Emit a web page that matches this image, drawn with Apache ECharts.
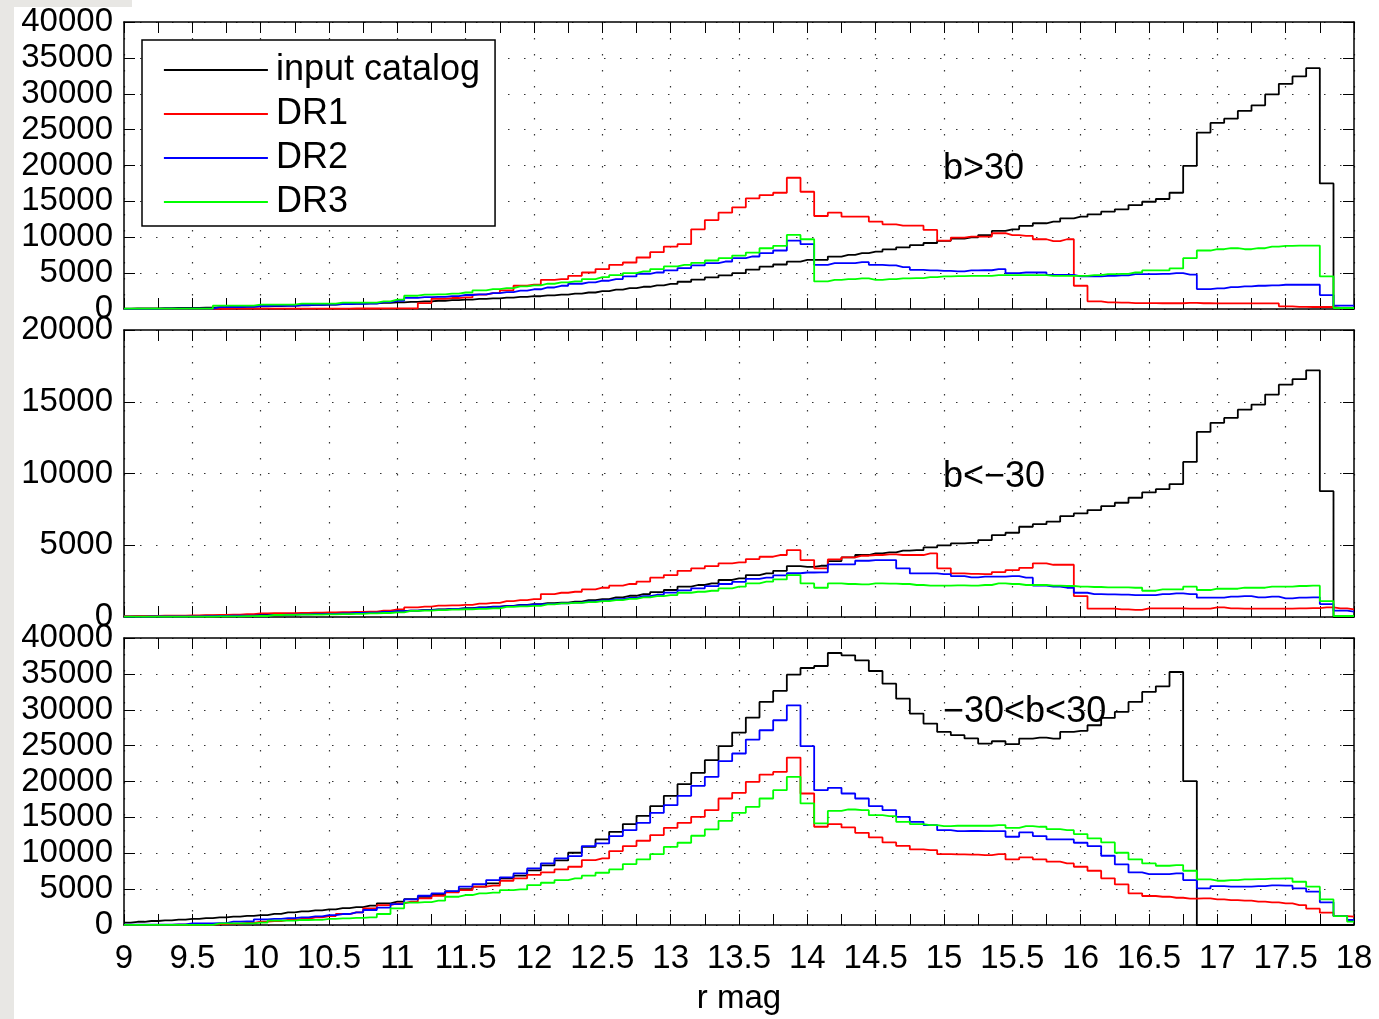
<!DOCTYPE html>
<html>
<head>
<meta charset="utf-8">
<script src="https://cdn.jsdelivr.net/npm/echarts@6/dist/echarts.min.js"></script>
<style>html,body{margin:0;padding:0;background:#fff}#chart{width:1379px;height:1019px}</style>
</head>
<body>
<div id="chart"></div>
<script>
// bin centres (r mag)
const mags = [
  9.0, 9.1, 9.2, 9.3, 9.4, 9.5, 9.6, 9.7, 9.8, 9.9,
  10.0, 10.1, 10.2, 10.3, 10.4, 10.5, 10.6, 10.7, 10.8, 10.9,
  11.0, 11.1, 11.2, 11.3, 11.4, 11.5, 11.6, 11.7, 11.8, 11.9,
  12.0, 12.1, 12.2, 12.3, 12.4, 12.5, 12.6, 12.7, 12.8, 12.9,
  13.0, 13.1, 13.2, 13.3, 13.4, 13.5, 13.6, 13.7, 13.8, 13.9,
  14.0, 14.1, 14.2, 14.3, 14.4, 14.5, 14.6, 14.7, 14.8, 14.9,
  15.0, 15.1, 15.2, 15.3, 15.4, 15.5, 15.6, 15.7, 15.8, 15.9,
  16.0, 16.1, 16.2, 16.3, 16.4, 16.5, 16.6, 16.7, 16.8, 16.9,
  17.0, 17.1, 17.2, 17.3, 17.4, 17.5, 17.6, 17.7, 17.8, 17.9,
  18.0
];

// ---- panel 1 : b>30 ----
const p1Input = [
  50, 70, 90, 110, 140, 170, 200, 240, 280, 320,
  370, 420, 470, 520, 570, 620, 680, 740, 800, 860,
  930, 1000, 1070, 1150, 1230, 1310, 1400, 1490, 1580, 1680,
  1780, 1890, 2000, 2150, 2300, 2500, 2700, 2900, 3100, 3300,
  3500, 3800, 4100, 4400, 4700, 5000, 5500, 5900, 6200, 6600,
  6850, 6850, 7300, 7550, 7800, 8000, 8300, 8600, 8900, 9200,
  9500, 9800, 10000, 10300, 10880, 11110, 11575, 11950, 12180, 12640,
  12870, 13200, 13570, 13890, 14490, 14950, 15330, 16200, 19950, 24590,
  25930, 26530, 27600, 28380, 29910, 31390, 32410, 33570, 17500, 100,
  50
];
const p1DR1 = [
  20, 20, 20, 20, 30, 30, 30, 30, 40, 40,
  40, 50, 50, 50, 60, 60, 60, 70, 70, 80,
  80, 100, 830, 1430, 1530, 1620, 1990, 2220, 2590, 3240,
  3380, 4070, 4170, 4630, 5090, 5560, 6160, 6480, 7180, 7920,
  8700, 9030, 11110, 12400, 13430, 14170, 15420, 15880, 16200, 18290,
  16340, 12960, 13430, 12870, 12870, 12180, 11800, 11620, 11620, 11020,
  9540, 9950, 10100, 10100, 10560, 10300, 10190, 9720, 9450, 9720,
  3240, 1065, 926, 880, 830, 830, 800, 800, 850, 800,
  790, 790, 790, 780, 780, 370, 300, 280, 280, 150,
  150
];
const p1DR2 = [
  30, 30, 30, 40, 40, 40, 50, 250, 280, 300,
  420, 430, 450, 560, 570, 600, 700, 720, 750, 950,
  1150, 1550, 1650, 1700, 1800, 1950, 2050, 2200, 2350, 2550,
  2750, 3000, 3240, 3520, 3700, 3940, 4170, 4540, 4910, 5090,
  5370, 5700, 6070, 6390, 6620, 7080, 7320, 7780, 8150, 9540,
  9030, 6160, 6390, 6390, 6530, 6160, 6070, 5830, 5460, 5370,
  5300, 5250, 5370, 5400, 5560, 5000, 5090, 5090, 4770, 4770,
  4540, 4540, 4630, 4680, 4860, 4860, 4900, 5000, 4800, 2780,
  2870, 3060, 3150, 3240, 3300, 3380, 3380, 3380, 1940, 460,
  460
];
const p1DR3 = [
  50, 50, 50, 50, 50, 50, 50, 460, 460, 460,
  600, 600, 600, 740, 740, 740, 880, 880, 880, 1070,
  1300, 1850, 2000, 2050, 2130, 2300, 2600, 2780, 2900, 3150,
  3300, 3520, 3700, 3840, 4170, 4440, 4720, 5000, 5230, 5560,
  5930, 6160, 6440, 6760, 7080, 7450, 7870, 8470, 8800, 10320,
  9720, 3840, 4070, 4170, 4260, 4070, 4170, 4260, 4300, 4440,
  4540, 4580, 4630, 4630, 4720, 4720, 4720, 4720, 4630, 4630,
  4630, 4720, 4860, 4900, 5090, 5370, 5370, 5650, 7080, 8150,
  8330, 8470, 8330, 8470, 8700, 8800, 8840, 8840, 4540, 140,
  140
];

// ---- panel 2 : b<-30 ----
const p2Input = [
  30, 40, 50, 60, 70, 80, 90, 100, 110, 130,
  150, 170, 190, 210, 230, 250, 280, 310, 340, 370,
  410, 450, 490, 530, 570, 620, 670, 720, 780, 840,
  900, 960, 1000, 1070, 1180, 1250, 1370, 1480, 1600, 1740,
  1880, 2110, 2230, 2340, 2580, 2690, 2920, 3040, 3220, 3550,
  3500, 3570, 3900, 4150, 4320, 4430, 4500, 4620, 4660, 4850,
  4990, 5130, 5170, 5360, 5710, 5870, 6290, 6470, 6640, 7030,
  7220, 7450, 7730, 7960, 8310, 8680, 8910, 9260, 10810, 12900,
  13530, 13870, 14450, 14800, 15500, 16190, 16570, 17190, 8770, 0,
  0
];
const p2DR1 = [
  60, 70, 80, 90, 100, 110, 130, 150, 170, 200,
  250, 260, 270, 280, 300, 320, 340, 360, 380, 450,
  530, 670, 720, 790, 810, 840, 930, 980, 1110, 1180,
  1250, 1600, 1690, 1760, 1920, 2040, 2180, 2300, 2460, 2740,
  2920, 3220, 3390, 3550, 3740, 3800, 4040, 4200, 4320, 4660,
  3970, 3390, 4010, 4150, 4270, 4320, 4360, 4320, 4320, 4430,
  3390, 3040, 3000, 2990, 3130, 3270, 3430, 3740, 3640, 3640,
  1460, 580, 580, 530, 490, 600, 600, 600, 580, 580,
  670, 600, 580, 580, 580, 580, 600, 620, 670, 600,
  530
];
const p2DR2 = [
  30, 30, 40, 40, 50, 50, 60, 80, 90, 100,
  120, 140, 160, 180, 200, 220, 250, 280, 310, 350,
  400, 440, 480, 520, 560, 600, 650, 700, 760, 820,
  870, 920, 950, 1000, 1080, 1150, 1250, 1330, 1450, 1550,
  1700, 1850, 2000, 2150, 2300, 2450, 2650, 2750, 2900, 3050,
  3100, 3110, 3670, 3670, 3920, 3970, 3970, 3390, 3040, 3040,
  2990, 2850, 2760, 2810, 2810, 2850, 2740, 2180, 2110, 2040,
  1690, 1600, 1580, 1560, 1530, 1530, 1600, 1650, 1600, 1350,
  1350, 1420, 1460, 1370, 1420, 1300, 1350, 1370, 900, 440,
  370
];
const p2DR3 = [
  20, 20, 20, 20, 20, 20, 20, 50, 50, 60,
  70, 140, 150, 160, 170, 180, 200, 220, 250, 280,
  320, 420, 450, 480, 510, 540, 570, 600, 700, 740,
  780, 880, 950, 990, 1040, 1110, 1180, 1270, 1370, 1460,
  1530, 1690, 1760, 1830, 2000, 2110, 2340, 2460, 2620, 2920,
  2340, 2040, 2340, 2300, 2270, 2340, 2320, 2300, 2230, 2180,
  2180, 2200, 2180, 2230, 2340, 2300, 2230, 2230, 2180, 2160,
  2110, 2090, 2060, 2060, 2040, 1830, 1920, 1920, 2110, 1880,
  1970, 1970, 2040, 2040, 2110, 2110, 2160, 2180, 1110, 70,
  70
];

// ---- panel 3 : -30<b<30 ----
const p3Input = [
  330, 450, 560, 650, 750, 840, 950, 1070, 1180, 1280,
  1390, 1550, 1760, 1900, 2050, 2180, 2350, 2500, 2690, 3020,
  3250, 3620, 3940, 4270, 4640, 5010, 5340, 5800, 6500, 6870,
  7600, 8300, 9000, 10070, 10900, 11920, 12990, 14060, 15220, 16560,
  18000, 19630, 21200, 22970, 24920, 26820, 28910, 31090, 32620, 34890,
  35820, 36100, 37910, 37580, 36890, 35400, 33640, 31550, 29460, 28070,
  26910, 26450, 26000, 25290, 25610, 25200, 25980, 26120, 25980, 26910,
  27050, 27840, 28860, 29700, 31090, 32480, 33270, 35260, 20040, 0,
  0, 0, 0, 0, 0, 0, 0, 0, 0, 0,
  0
];
const p3DR1 = [
  20, 20, 30, 30, 40, 50, 60, 140, 200, 300,
  460, 550, 700, 850, 1070, 1250, 1530, 1760, 2320, 2780,
  3020, 3250, 3710, 4080, 4550, 4870, 5340, 5480, 6170, 6500,
  7000, 7330, 7750, 8120, 9050, 9280, 10300, 11000, 11740, 12530,
  13550, 14240, 15080, 16010, 17630, 18420, 19950, 20970, 21340, 23340,
  18330, 13690, 14060, 13600, 12850, 12200, 11510, 11040, 10530, 10440,
  9880, 9840, 9800, 9740, 9880, 9140, 9420, 9140, 8820, 8580,
  8120, 7560, 6500, 5660, 4410, 4040, 3940, 3800, 3670, 3710,
  3570, 3480, 3390, 3250, 3160, 3020, 2780, 2270, 1720, 1250,
  1160
];
const p3DR2 = [
  50, 50, 60, 60, 80, 230, 230, 260, 460, 500,
  790, 850, 950, 1070, 1200, 1390, 1530, 1760, 2090, 2410,
  2920, 3570, 4080, 4410, 4730, 5340, 5710, 6260, 6640, 7190,
  7890, 8580, 9280, 9600, 11000, 11370, 12390, 13220, 14240, 15640,
  16700, 18000, 19400, 20650, 22830, 23900, 25840, 27140, 28540, 30620,
  24920, 18790, 19120, 18330, 17630, 16560, 16010, 15080, 14380, 13920,
  13220, 13090, 13100, 13090, 13090, 12300, 12900, 12390, 11920, 11920,
  11460, 11000, 9650, 8440, 7330, 7100, 7100, 7190, 6260, 5100,
  5430, 5340, 5340, 5430, 5520, 5480, 5100, 4640, 3160, 1250,
  700
];
const p3DR3 = [
  30, 30, 30, 30, 30, 30, 30, 230, 230, 230,
  320, 600, 620, 700, 720, 840, 930, 1000, 1070, 1530,
  2320, 3110, 3200, 3390, 3940, 4180, 4410, 4500, 4870, 4960,
  5570, 5890, 6260, 6500, 6870, 7280, 7750, 8490, 9140, 9880,
  10900, 11460, 12440, 13320, 14520, 15640, 16470, 17630, 18790, 20650,
  16940, 14150, 15900, 16100, 16010, 15310, 15170, 14380, 14060, 13920,
  13780, 13830, 13830, 13830, 13920, 13550, 13780, 13690, 13360, 13220,
  12670, 12060, 11510, 10070, 9140, 8580, 8260, 8350, 7560, 6360,
  6170, 6260, 6360, 6400, 6450, 6500, 6030, 5340, 3570, 1250,
  460
];

const seriesNames = ['input catalog', 'DR1', 'DR2', 'DR3'];
const seriesColors = ['#000000', '#ff0000', '#0000ff', '#00ff00'];
const panelLabels = ['b>30', 'b<\u221230', '\u221230<b<30'];
const panelMax = [40000, 20000, 40000];
const panelData = [
  [p1Input, p1DR1, p1DR2, p1DR3],
  [p2Input, p2DR1, p2DR2, p2DR3],
  [p3Input, p3DR1, p3DR2, p3DR3]
];

// ---- layout / style ----
const FONT = '"Liberation Sans", Arial, Helvetica, sans-serif';
const FS = 33;
const gridTops = [22, 330, 638];
const gridLeft = 124, gridWidth = 1230, gridHeight = 287;
const labelPos = [[943, 169], [943, 477], [943, 712]];

const tickStyle = { show: true, inside: true, length: 11, lineStyle: { color: '#000', width: 1 } };
const axisLineStyle = { show: true, onZero: false, lineStyle: { color: '#000', width: 1.5 } };
const dotted = { show: true, lineStyle: { color: '#333', width: 1.2, type: [1.5, 14.5] } };

const grids = [], xAxes = [], yAxes = [], series = [], graphics = [];

graphics.push({ type: 'rect', shape: { x: 0, y: 0, width: 14, height: 1019 }, style: { fill: '#e8e7e4' }, z: -10 });
graphics.push({ type: 'rect', shape: { x: 0, y: 0, width: 132, height: 7 }, style: { fill: '#e8e7e4' }, z: -10 });

for (let p = 0; p < 3; p++) {
  grids.push({ left: gridLeft, top: gridTops[p], width: gridWidth, height: gridHeight, show: false, containLabel: false });
  const isLast = p === 2;
  xAxes.push({
    type: 'value', gridIndex: p, position: 'bottom', min: 9, max: 18, interval: 0.5,
    axisLine: axisLineStyle, axisTick: tickStyle,
    minorTick: { show: true, splitNumber: 2, length: 11, lineStyle: { color: '#000', width: 1 } },
    minorSplitLine: { show: false },
    splitLine: dotted,
    axisLabel: { show: isLast, color: '#000', fontSize: FS, fontFamily: FONT, margin: 17, formatter: v => String(v) },
    name: isLast ? 'r mag' : '', nameLocation: 'middle', nameGap: 57,
    nameTextStyle: { color: '#000', fontSize: FS, fontFamily: FONT }
  });
  xAxes.push({
    type: 'value', gridIndex: p, position: 'top', min: 9, max: 18, interval: 0.5,
    axisLine: axisLineStyle, axisTick: tickStyle,
    minorTick: { show: true, splitNumber: 2, length: 11, lineStyle: { color: '#000', width: 1 } },
    splitLine: { show: false }, axisLabel: { show: false }
  });
  yAxes.push({
    type: 'value', gridIndex: p, position: 'left', min: 0, max: panelMax[p], interval: 5000,
    axisLine: axisLineStyle, axisTick: tickStyle, splitLine: dotted,
    axisLabel: { show: true, color: '#000', fontSize: FS, fontFamily: FONT, margin: 11, formatter: v => String(v) }
  });
  yAxes.push({
    type: 'value', gridIndex: p, position: 'right', min: 0, max: panelMax[p], interval: 5000,
    axisLine: axisLineStyle, axisTick: tickStyle, splitLine: { show: false }, axisLabel: { show: false }
  });
  for (let s = 0; s < 4; s++) {
    const vals = panelData[p][s];
    series.push({
      type: 'line', name: seriesNames[s], xAxisIndex: 2 * p, yAxisIndex: 2 * p,
      step: 'middle', symbol: 'none', showSymbol: false, silent: true, z: 3 + s,
      lineStyle: { color: seriesColors[s], width: 1.8 },
      itemStyle: { color: seriesColors[s] },
      data: mags.map((m, i) => [m, vals[i]])
    });
  }
  graphics.push({
    type: 'text', x: labelPos[p][0], y: labelPos[p][1], z: 20,
    style: { text: panelLabels[p], fontSize: 36, fontFamily: FONT, fill: '#000',
      verticalAlign: 'middle', textVerticalAlign: 'middle' }
  });
}

const chart = echarts.init(document.getElementById('chart'), null, { renderer: 'canvas' });
chart.setOption({
  animation: false,
  backgroundColor: '#ffffff',
  grid: grids, xAxis: xAxes, yAxis: yAxes, series: series,
  legend: {
    show: true, orient: 'vertical', left: 142, top: 40,
    padding: [12, 15, 6, 21], itemGap: 8, itemWidth: 104, itemHeight: 30,
    backgroundColor: '#ffffff', borderColor: '#000', borderWidth: 1.5, borderRadius: 0,
    selectedMode: false, z: 10,
    textStyle: { color: '#000', fontSize: 36, fontFamily: FONT, padding: [0, 0, 0, 3] },
    data: seriesNames.map((n, i) => ({ name: n, itemStyle: { opacity: 0 }, lineStyle: { color: seriesColors[i], width: 1.8 } }))
  },
  graphic: graphics
});
</script>
</body>
</html>
